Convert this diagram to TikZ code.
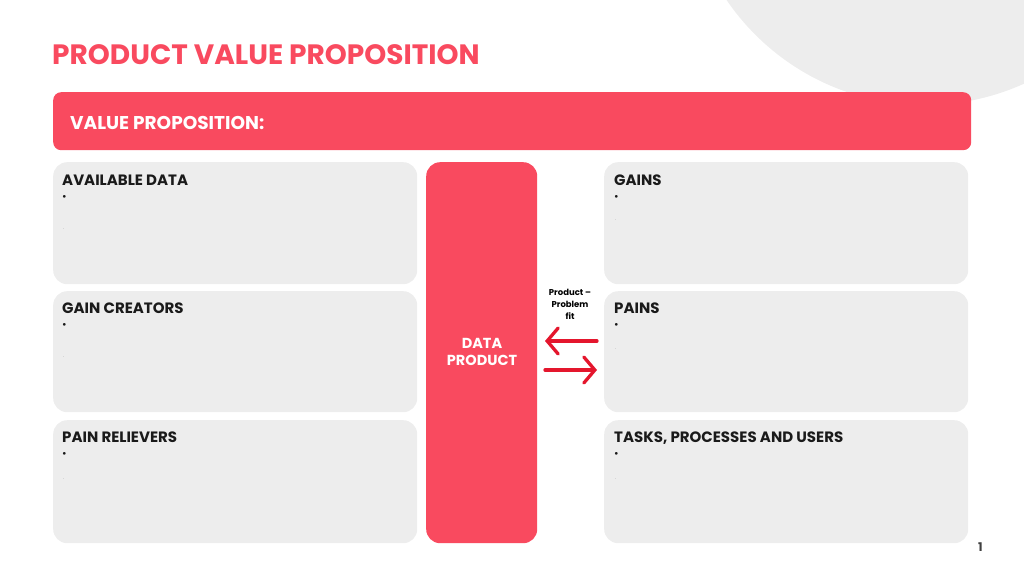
\documentclass[tikz,border=0pt]{standalone}
\usepackage{fontspec}
\setmainfont{Poppins}
\usetikzlibrary{arrows.meta}
\definecolor{pvred}{HTML}{F94A5F}
\definecolor{pvgray}{HTML}{EDEDED}
\definecolor{pvarrow}{HTML}{E4162D}
\definecolor{pvtext}{HTML}{1A1A1A}
\tikzset{
  graybox/.style={fill=pvgray, rounded corners=14pt, anchor=north west, inner sep=0pt, minimum width=364pt, minimum height=122pt},
  lbl/.style={anchor=base west, inner sep=0pt, font=\fontsize{15}{17}\selectfont\bfseries, text=pvtext},
  bul/.style={anchor=base west, inner sep=0pt, font=\fontsize{11}{12}\selectfont, text=pvtext},
  gdot/.style={anchor=base west, inner sep=0pt, font=\fontsize{6}{7}\selectfont, text=black!30},
  fitarrow/.style={draw=pvarrow, line width=3.3pt, line cap=round, -{Straight Barb[length=11pt,width=26pt,line cap=round]}},
}
\begin{document}
\begin{tikzpicture}[x=1pt,y=-1pt]
\useasboundingbox (0,0) rectangle (1024,578);
\fill[pvgray] (925,-135) circle (240);
% title
\node[anchor=base west, inner sep=0pt, text=pvred, font=\fontsize{28}{32}\selectfont\bfseries] (title) at (52,64) {PRODUCT VALUE PROPOSITION};
% value proposition bar
\node[fill=pvred, rounded corners=8pt, anchor=north west, minimum width=918pt, minimum height=58pt, inner sep=0pt] (vp) at (53,92) {};
\node[anchor=base west, inner sep=0pt, text=white, font=\fontsize{18.5}{21}\selectfont\bfseries] (vptext) at (70,129) {VALUE PROPOSITION:};
% left boxes
\node[graybox] (ad) at (53,162) {};
\node[graybox, minimum height=121pt] (gc) at (53,291) {};
\node[graybox, minimum height=123pt] (pr) at (53,420) {};
% right boxes
\node[graybox] (ga) at (604,162) {};
\node[graybox, minimum height=121pt] (pa) at (604,291) {};
\node[graybox, minimum height=123pt] (tp) at (604,420) {};
% center
\node[fill=pvred, rounded corners=14pt, anchor=north west, minimum width=111pt, minimum height=381pt, inner sep=0pt] (dp) at (426,162) {};
\node[text=white, align=center, font=\fontsize{14.5}{17}\selectfont\bfseries, inner sep=0pt] (dptext) at (482,352) {DATA\\PRODUCT};
% labels
\node[lbl] (adl) at (62,185) {AVAILABLE DATA};
\node[bul] at (62,200) {\textbullet};
\node[gdot] at (63,229) {.};
\node[lbl] (gcl) at (62,313) {GAIN CREATORS};
\node[bul] at (62,328) {\textbullet};
\node[gdot] at (63,357) {.};
\node[lbl] (prl) at (62,442) {PAIN RELIEVERS};
\node[bul] at (62,457) {\textbullet};
\node[gdot] at (63,479) {.};
\node[lbl] (gal) at (614,185) {GAINS};
\node[bul] at (614,200) {\textbullet};
\node[gdot] at (615,220) {.};
\node[lbl] (pal) at (614,313) {PAINS};
\node[bul] at (614,328) {\textbullet};
\node[gdot] at (615,349) {.};
\node[lbl] (tpl) at (614,442) {TASKS, PROCESSES AND USERS};
\node[bul] at (614,457) {\textbullet};
\node[gdot] at (615,479) {.};
% fit text and arrows
\node[align=center, inner sep=0pt, font=\fontsize{8.5}{12}\selectfont\bfseries, text=black] (fit) at (570,304) {Product –\\Problem\\fit};
\coordinate (la) at (597,341);
\coordinate (lb) at (545,341);
\coordinate (ra) at (545,370);
\coordinate (rb) at (597,370);
\draw[fitarrow] (la) -- (lb);
\draw[fitarrow] (ra) -- (rb);
% page number
\node[anchor=base west, inner sep=0pt, font=\fontsize{12}{14}\selectfont\bfseries, text=black!75] (pg) at (978,551) {1};
\end{tikzpicture}
\end{document}
